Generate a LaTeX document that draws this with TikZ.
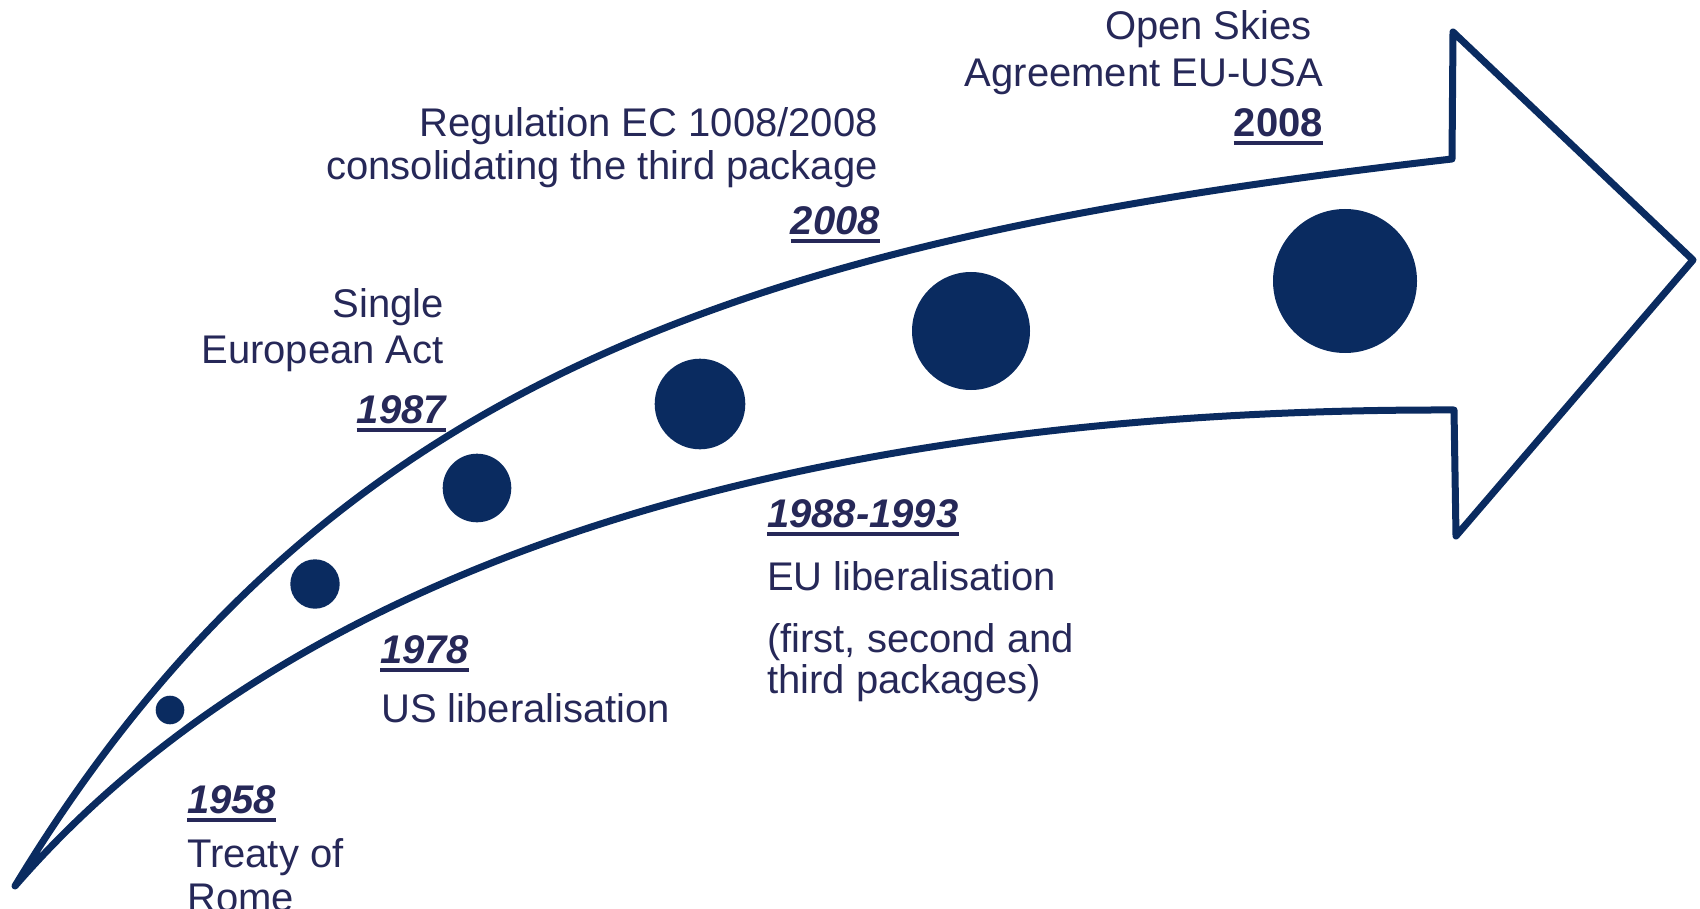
\documentclass[tikz,border=0pt]{standalone}
\usepackage{fontspec}
\setmainfont{Liberation Sans}
\usetikzlibrary{calc}
\definecolor{arrowblue}{RGB}{10,43,96}
\definecolor{txtblue}{RGB}{38,40,88}
\begin{document}
\begin{tikzpicture}[x=1pt,y=-1pt,
  lbl/.style={inner sep=0pt, text=txtblue, font=\fontsize{40}{46}\selectfont},
  yr/.style={lbl, font=\fontsize{40}{46}\selectfont\bfseries\itshape},
  yrup/.style={lbl, font=\fontsize{40}{46}\selectfont\bfseries},
  ul/.style={draw=txtblue, line width=4pt},
  dot/.style={circle, fill=arrowblue, inner sep=0pt, draw=none},
  outline/.style={draw=arrowblue, line width=7pt, line join=round, line cap=round}]
\useasboundingbox (0,0) rectangle (1700,909);
\clip (0,0) rectangle (1700,909);
% arrow outline
\coordinate (tail) at (15,886);
\coordinate (ut) at (1452,159);
\coordinate (ht) at (1453,32);
\coordinate (tip) at (1693,260);
\coordinate (hb) at (1456,536);
\coordinate (lt) at (1454,410);
\draw[outline] (tail) .. controls (326,373) and (757,239) .. (ut)
  -- (ht) -- (tip) -- (hb) -- (lt)
  .. controls (754,408) and (277,584) .. (tail) -- cycle;
% dots
\node[dot, minimum size=28.6pt] (c1) at (170,710) {};
\node[dot, minimum size=49.4pt] (c2) at (315,584) {};
\node[dot, minimum size=68.6pt] (c3) at (477,488) {};
\node[dot, minimum size=90.6pt] (c4) at (700,404) {};
\node[dot, minimum size=118pt] (c5) at (971,331) {};
\node[dot, minimum size=144pt] (c6) at (1345,281) {};
% Open Skies
\node[lbl, anchor=base east] (os1) at (1312,40) {Open Skies};
\node[lbl, anchor=base east] (os2) at (1323,87) {Agreement EU-USA};
\node[yrup, anchor=base east] (y08b) at (1323,137) {2008};
\draw[ul] ($(y08b.base west)+(0,6.5)$) -- ($(y08b.base east)+(0,6.5)$);
% Regulation
\node[lbl, anchor=base east] (rg1) at (878,137) {Regulation EC 1008/2008};
\node[lbl, anchor=base east] (rg2) at (878,180) {consolidating the third package};
\node[yr, anchor=base east] (y08a) at (880,235) {2008};
\draw[ul] ($(y08a.base west)+(0,6.5)$) -- ($(y08a.base east)+(0,6.5)$);
% Single European Act
\node[lbl, anchor=base east] (se1) at (444,318) {Single};
\node[lbl, anchor=base east] (se2) at (444,363) {European Act};
\node[yr, anchor=base east] (y87) at (446,423) {1987};
\draw[ul] ($(y87.base west)+(0,6.5)$) -- ($(y87.base east)+(0,6.5)$);
% 1978
\node[yr, anchor=base west] (y78) at (380,663) {1978};
\draw[ul] ($(y78.base west)+(0,6.5)$) -- ($(y78.base east)+(0,6.5)$);
\node[lbl, anchor=base west] (us) at (381,722) {US liberalisation};
% 1988-1993
\node[yr, anchor=base west] (y88) at (767,527) {1988-1993};
\draw[ul] ($(y88.base west)+(0,6.5)$) -- ($(y88.base east)+(0,6.5)$);
\node[lbl, anchor=base west] (eu1) at (767,590) {EU liberalisation};
\node[lbl, anchor=base west] (eu2) at (767,652) {(first, second and};
\node[lbl, anchor=base west] (eu3) at (767,693) {third packages)};
% 1958
\node[yr, anchor=base west] (y58) at (187,813) {1958};
\draw[ul] ($(y58.base west)+(0,6.5)$) -- ($(y58.base east)+(0,6.5)$);
\node[lbl, anchor=base west] (tr1) at (187,867) {Treaty of};
\node[lbl, anchor=base west] (tr2) at (187,911) {Rome};
\end{tikzpicture}
\end{document}
